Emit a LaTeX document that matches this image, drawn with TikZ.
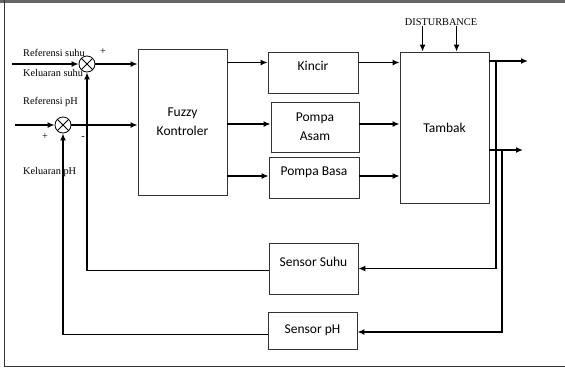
\documentclass[tikz,border=0pt]{standalone}
\usepackage{fontspec}
\setmainfont{Carlito}
\newfontfamily\lblfont{Liberation Serif}
\usetikzlibrary{arrows.meta,positioning,calc}
\tikzset{
  block/.style={rectangle, draw=black!80, line width=0.8pt, align=center, inner sep=1pt, font=\fontsize{13.5}{19}\selectfont},
  uptext/.style={text depth=13pt},
  sumjn/.style={circle, draw, line width=0.8pt, minimum size=16pt, inner sep=0pt,
    path picture={\draw[line width=0.8pt] (path picture bounding box.north west) -- (path picture bounding box.south east)
      (path picture bounding box.north east) -- (path picture bounding box.south west);}},
  flow/.style={-{Latex[length=7pt,width=6pt]}, line width=1.5pt},
  lbl/.style={font=\lblfont\fontsize{10.3}{12}\selectfont, inner sep=0pt},
}

\begin{document}
\begin{tikzpicture}[x=1pt,y=-1pt]
  \useasboundingbox (0,0) rectangle (565,368);
  % frame
  \draw[black!60, line width=3pt] (0,1) -- (565,1);
  \draw[black!80, line width=0.8pt] (4,0) -- (4,366) -- (565,366);

  % junctions and blocks
  \node[sumjn] (sumsuhu) at (87,64) {};
  \node[sumjn] (sumph) at (63,125) {};
  \node[block, minimum width=89pt, minimum height=146pt] (fuzzy) at (182.5,122) {Fuzzy\\Kontroler};
  \node[block, uptext, minimum width=90pt, minimum height=41pt] (kincir) at (313,72.5) {Kincir};
  \node[block, minimum width=88pt, minimum height=50pt] (asam) at (315,127) {Pompa\\Asam};
  \node[block, uptext, minimum width=90pt, minimum height=41pt] (basa) at (314,177.5) {Pompa Basa};
  \node[block, minimum width=89pt, minimum height=151pt] (tambak) at (444.5,127.5) {Tambak};
  \node[block, uptext, minimum width=89pt, minimum height=51pt] (sensuhu) at (313.5,268.5) {Sensor Suhu};
  \node[block, minimum width=89pt, minimum height=37pt] (senph) at (312.5,330.5) {Sensor pH};

  % labels
  \node[lbl, anchor=west] (refsuhu) at (23,53) {Referensi suhu};
  \node[lbl, anchor=west] (kelsuhu) at (23,73) {Keluaran suhu};
  \node[lbl, anchor=west] (refph) at (23,102) {Referensi pH};
  \node[lbl, anchor=west] (kelph) at (23,172) {Keluaran pH};
  \node[lbl] (plussuhu) at (103,52) {+};
  \node[lbl] (plusph) at (45,137) {+};
  \node[lbl] (minph) at (83,138) {-};
  \node[lbl] (dist) at (441,22) {DISTURBANCE};

  % helper points
  \coordinate (insuhu) at (12,64);
  \coordinate (inph) at (15,125);
  \coordinate (kin) at ([yshift=10pt]kincir.west);
  \coordinate (asm) at ([yshift=3pt]asam.west);
  \coordinate (bas) at ([yshift=1.5pt]basa.west);
  \coordinate (d1) at ([xshift=23pt]tambak.north west);
  \coordinate (d2) at ([xshift=57pt]tambak.north west);
  \coordinate (out1) at (528,61);
  \coordinate (out2) at (523,150);
  \coordinate (tap1) at (496,61);
  \coordinate (tap2) at (502,150);

  % connectors
  \draw[flow] (insuhu) -- (sumsuhu);
  \draw[flow] (inph) -- (sumph);
  \draw[flow] (sumsuhu) -- (sumsuhu -| fuzzy.west);
  \draw[flow] (sumph) -- (sumph -| fuzzy.west);
  \draw[flow] (kin -| fuzzy.east) -- (kin);
  \draw[flow] (asm -| fuzzy.east) -- (asm);
  \draw[flow] (bas -| fuzzy.east) -- (bas);
  \draw[flow] (kin -| kincir.east) -- (kin -| tambak.west);
  \draw[flow] (asm -| asam.east) -- (asm -| tambak.west);
  \draw[flow] (bas -| basa.east) -- (bas -| tambak.west);
  \draw[flow] (dist.south -| d1) -- (d1);
  \draw[flow] (dist.south -| d2) -- (d2);
  \draw[flow] (out1 -| tambak.east) -- (out1);
  \draw[flow] (out2 -| tambak.east) -- (out2);
  \draw[flow] (tap1) |- (sensuhu.east);
  \draw[flow] (tap2) |- ([yshift=-1.5pt]senph.east);
  \draw[flow] ([yshift=-2pt]sensuhu.west) -| (sumsuhu.south);
  \draw[flow] ([yshift=-4pt]senph.west) -| (sumph.south);
\end{tikzpicture}
\end{document}
